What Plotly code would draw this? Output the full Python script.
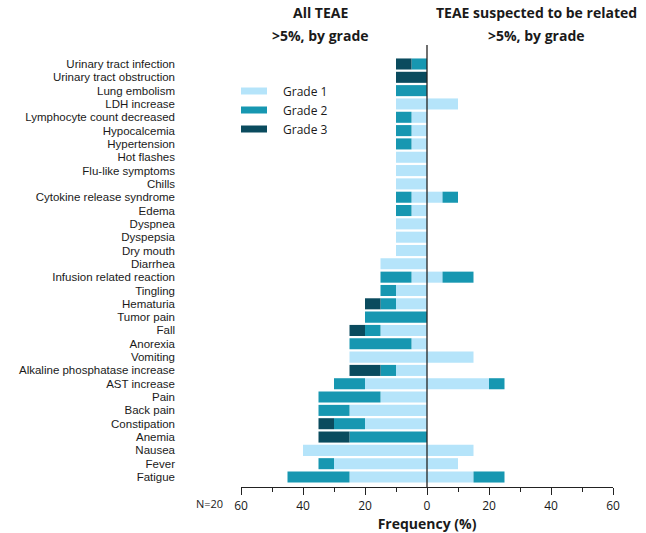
import plotly.graph_objects as go

categories = [
    "Urinary tract infection", "Urinary tract obstruction", "Lung embolism", "LDH increase",
    "Lymphocyte count decreased", "Hypocalcemia", "Hypertension", "Hot flashes",
    "Flu-like symptoms", "Chills", "Cytokine release syndrome", "Edema", "Dyspnea",
    "Dyspepsia", "Dry mouth", "Diarrhea", "Infusion related reaction", "Tingling",
    "Hematuria", "Tumor pain", "Fall", "Anorexia", "Vomiting",
    "Alkaline phosphatase increase", "AST increase", "Pain", "Back pain", "Constipation",
    "Anemia", "Nausea", "Fever", "Fatigue",
]
all_g1 = [0, 0, 0, 10, 5, 5, 5, 10, 10, 10, 5, 5, 10, 10, 10, 15, 5, 10, 10, 0, 15, 5, 25, 10, 20, 15, 25, 20, 0, 40, 30, 25]
all_g2 = [5, 0, 10, 0, 5, 5, 5, 0, 0, 0, 5, 5, 0, 0, 0, 0, 10, 5, 5, 20, 5, 20, 0, 5, 10, 20, 10, 10, 25, 0, 5, 20]
all_g3 = [5, 10, 0, 0, 0, 0, 0, 0, 0, 0, 0, 0, 0, 0, 0, 0, 0, 0, 5, 0, 5, 0, 0, 10, 0, 0, 0, 5, 10, 0, 0, 0]
rel_g1 = [0, 0, 0, 10, 0, 0, 0, 0, 0, 0, 5, 0, 0, 0, 0, 0, 5, 0, 0, 0, 0, 0, 15, 0, 20, 0, 0, 0, 0, 15, 10, 15]
rel_g2 = [0, 0, 0, 0, 0, 0, 0, 0, 0, 0, 5, 0, 0, 0, 0, 0, 10, 0, 0, 0, 0, 0, 0, 0, 5, 0, 0, 0, 0, 0, 0, 10]
grade_names = ["Grade 1", "Grade 2", "Grade 3"]
tick_vals = [-60, -40, -20, 0, 20, 40, 60]
tick_text = ["60", "40", "20", "0", "20", "40", "60"]

colors = ["#b5e4fa", "#1797b1", "#0a4b5e"]
FONT = "Open Sans"
LABEL_FONT = "Liberation Sans"

fig = go.Figure()
series = [
    (all_g1, -1, 0), (rel_g1, 1, 0),
    (all_g2, -1, 1), (rel_g2, 1, 1),
    (all_g3, -1, 2),
]
for vals, sign, g in series:
    fig.add_trace(go.Bar(
        y=categories, x=[sign * v for v in vals], orientation="h",
        marker=dict(color=colors[g], line=dict(width=0)),
        name=grade_names[g], showlegend=False,
        hovertemplate="%{y}: %{customdata}%<extra>" + grade_names[g] + "</extra>",
        customdata=vals,
    ))

plot_l, plot_w, plot_t, plot_h = 241, 372, 50, 437

fig.update_layout(
    width=646, height=533,
    margin=dict(l=plot_l, r=646 - plot_l - plot_w, t=plot_t, b=533 - plot_t - plot_h),
    barmode="relative", bargap=0.17,
    plot_bgcolor="white", paper_bgcolor="white",
    font=dict(family=FONT, size=11, color="#1a1a1a"),
    showlegend=False,
)
fig.update_yaxes(
    type="category", categoryorder="array", categoryarray=categories[::-1],
    tickmode="array", tickvals=categories, ticktext=categories,
    range=[-0.75, 32.05], showgrid=False, zeroline=False, showline=False,
    automargin=False,
    ticks="", ticklabelstandoff=65, tickfont=dict(size=11.5, family=LABEL_FONT),
)
fig.update_xaxes(
    range=[-60, 60], tickvals=tick_vals, ticktext=tick_text,
    showgrid=False, zeroline=False, showline=True, linecolor="#222", linewidth=1.2,
    automargin=False,
    ticks="outside", ticklen=7, tickwidth=1.2, tickcolor="#222",
    minor=dict(dtick=10, ticks="outside", ticklen=4, tickwidth=1, tickcolor="#222"),
    tickfont=dict(size=12, family=FONT),
    title=dict(text="<b>Frequency (%)</b>", font=dict(size=14, family=FONT), standoff=8),
)

def px_to_paper(px, py):
    return (px - plot_l) / plot_w, 1 - (py - plot_t) / plot_h

# zero line
fig.add_shape(type="line", xref="x", yref="paper", x0=0, x1=0, y0=0, y1=px_to_paper(0, 45)[1],
              line=dict(color="#222", width=1.3))

# headers
headers = [(320, ["All TEAE", ">5%, by grade"]), (536, ["TEAE suspected to be related", ">5%, by grade"])]
for xc, lines in headers:
    for j, txt in enumerate(lines):
        px, py = px_to_paper(xc, 12 + j * 23)
        fig.add_annotation(x=px, y=py, xref="paper", yref="paper", xanchor="center", yanchor="middle",
                           text="<b>" + txt + "</b>", showarrow=False,
                           font=dict(size=14, family=FONT, color="#1a1a1a"))

nx, ny = px_to_paper(209, 503)
fig.add_annotation(x=nx, y=ny, xref="paper", yref="paper", xanchor="center", yanchor="middle",
                   text="N=20", showarrow=False, font=dict(size=11, family=FONT))

# manual legend
for i, name in enumerate(grade_names):
    yc = 91 + i * 19
    x0, y0 = px_to_paper(241, yc - 3.5)
    x1, y1 = px_to_paper(267, yc + 3.5)
    fig.add_shape(type="rect", xref="paper", yref="paper", x0=x0, x1=x1, y0=y1, y1=y0,
                  fillcolor=colors[i], line=dict(width=0))
    tx, ty = px_to_paper(281, yc)
    fig.add_annotation(x=tx, y=ty, xref="paper", yref="paper", xanchor="left", yanchor="middle",
                       text=name, showarrow=False, font=dict(size=12, family=FONT))

fig.write_html("out.html", config={"displayModeBar": False},
               post_script="document.body.style.margin='0';")
